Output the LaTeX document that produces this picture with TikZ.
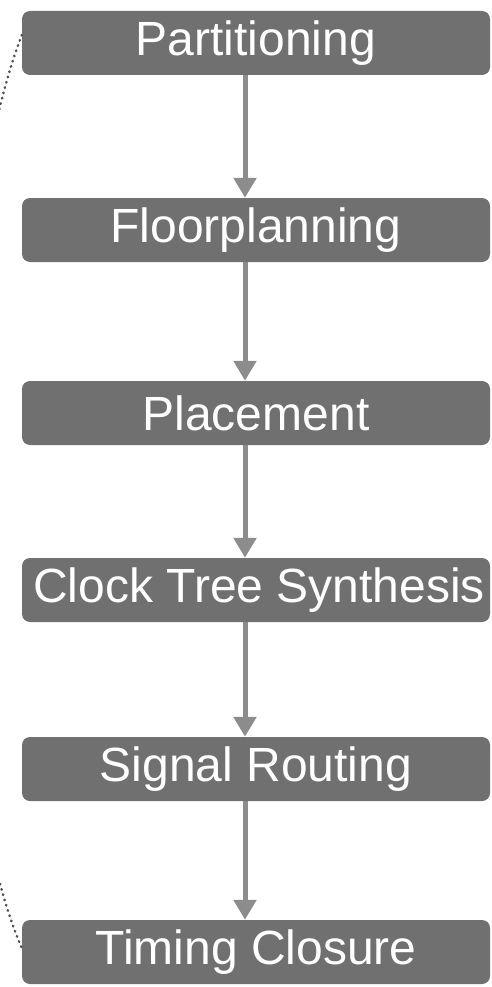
\documentclass[tikz,border=0pt]{standalone}
\usepackage{fontspec}
\setmainfont{Liberation Sans}
\usetikzlibrary{arrows.meta}
\definecolor{boxgray}{RGB}{112,112,112}
\definecolor{arrowgray}{RGB}{140,140,140}
\definecolor{loopgray}{RGB}{80,80,80}
\begin{document}
\begin{tikzpicture}[x=1pt,y=-1pt,
  stage/.style={fill=boxgray, rounded corners=8pt, minimum width=468pt,
    minimum height=64pt, inner sep=0pt, text=white,
    font=\fontsize{48}{48}\selectfont},
  flow/.style={draw=arrowgray, line width=5pt,
    -{Triangle[width=22pt,length=20pt]}},
  loopback/.style={draw=loopgray, line width=2.6pt, line cap=round,
    dash pattern=on 0.5pt off 5pt}]
\useasboundingbox (0,0) rectangle (491,987);
\node[stage] (p) at (256,43)  {Partitioning};
\node[stage] (f) at (256,230) {Floorplanning};
\node[stage] (pl) at (256,413) {Placement};
\node[stage] (c) at (256,590) {\makebox[400pt][c]{\hspace*{6pt}Clock Tree Synthesis}};
\node[stage] (s) at (256,769) {Signal Routing};
\node[stage] (t) at (256,952) {Timing Closure};
\foreach \a/\b in {p/f, f/pl, pl/c, c/s, s/t}
  \draw[flow] ([xshift=-11pt]\a.south) -- ([xshift=-11pt]\b.north);
\draw[loopback] ([yshift=8pt]p.west) .. controls (-60,250) and (-60,760) .. ([yshift=4pt]t.west);
\end{tikzpicture}
\end{document}
